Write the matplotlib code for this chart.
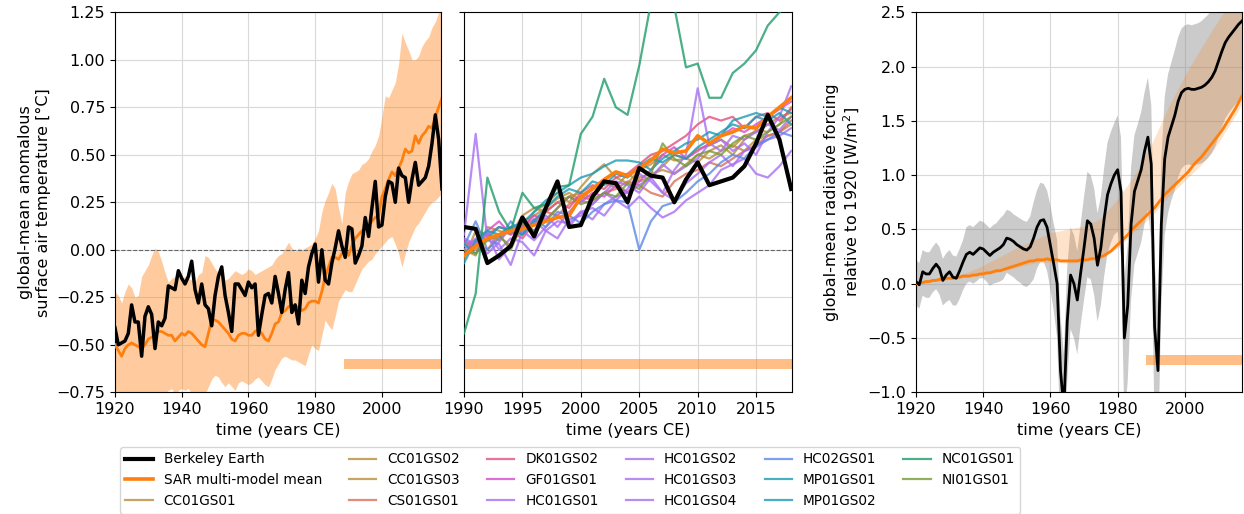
import numpy as np
import matplotlib
matplotlib.use("Agg")
import matplotlib.pyplot as plt

plt.rcParams["font.family"] = ["DejaVu Sans"]
plt.rcParams["font.size"] = 11.5

# ---------------- data: temperature (1920-2018) ----------------
years_t = np.arange(1920, 2019)
berkeley = [
    -0.41, -0.50, -0.49, -0.48, -0.44, -0.29, -0.38, -0.38, -0.56, -0.35,
    -0.30, -0.34, -0.52, -0.38, -0.40, -0.36, -0.19, -0.20, -0.21, -0.11,
    -0.15, -0.18, -0.14, -0.06, -0.21, -0.28, -0.18, -0.29, -0.31, -0.40,
    -0.24, -0.14, -0.09, -0.24, -0.33, -0.43, -0.18, -0.18, -0.21, -0.24,
    -0.17, -0.20, -0.18, -0.45, -0.34, -0.24, -0.23, -0.28, -0.14, -0.23,
    -0.33, -0.21, -0.12, -0.33, -0.29, -0.39, -0.16, -0.23, -0.09, -0.02,
    0.03, -0.17, 0.00, -0.16, -0.18, -0.07, 0.01, 0.10, 0.02, -0.04,
    0.12, 0.11, -0.07, -0.03, 0.02, 0.17, 0.07, 0.22, 0.36, 0.12,
    0.13, 0.28, 0.36, 0.35, 0.25, 0.43, 0.39, 0.38, 0.25, 0.37,
    0.46, 0.34, 0.36, 0.38, 0.44, 0.56, 0.71, 0.58, 0.32,
]
sar_mean = [
    -0.50, -0.53, -0.56, -0.52, -0.50, -0.49, -0.50, -0.51, -0.52, -0.50,
    -0.47, -0.46, -0.45, -0.43, -0.43, -0.44, -0.45, -0.45, -0.48, -0.46,
    -0.44, -0.45, -0.43, -0.44, -0.46, -0.48, -0.50, -0.51, -0.44, -0.37,
    -0.37, -0.38, -0.40, -0.42, -0.44, -0.47, -0.48, -0.45, -0.44, -0.44,
    -0.45, -0.45, -0.43, -0.42, -0.44, -0.47, -0.48, -0.44, -0.39, -0.38,
    -0.33, -0.32, -0.30, -0.29, -0.30, -0.30, -0.32, -0.31, -0.28, -0.27,
    -0.27, -0.28, -0.22, -0.14, -0.09, -0.04, -0.04, -0.05, -0.02, 0.00,
    -0.03, 0.02, 0.06, 0.08, 0.10, 0.11, 0.13, 0.15, 0.17, 0.18,
    0.28, 0.32, 0.37, 0.41, 0.39, 0.43, 0.47, 0.53, 0.51, 0.52,
    0.60, 0.56, 0.60, 0.62, 0.65, 0.64, 0.70, 0.75, 0.80,
]
sar_hi = [
    -0.22, -0.24, -0.28, -0.22, -0.18, -0.20, -0.25, -0.24, -0.14, -0.11,
    -0.08, -0.03, 0.01, -0.01, -0.06, -0.12, -0.17, -0.15, -0.14, -0.14,
    -0.15, -0.14, -0.15, -0.16, -0.17, -0.13, -0.12, -0.03, -0.04, -0.07,
    -0.10, -0.12, -0.14, -0.16, -0.15, -0.13, -0.11, -0.12, -0.13, -0.12,
    -0.10, -0.11, -0.13, -0.12, -0.11, -0.10, -0.09, -0.08, -0.05, -0.03,
    -0.02, 0.01, 0.04, 0.01, -0.01, 0.01, 0.00, 0.01, 0.02, 0.03,
    0.06, 0.10, 0.20, 0.26, 0.30, 0.35, 0.32, 0.22, 0.14, 0.30,
    0.36, 0.40, 0.41, 0.42, 0.45, 0.46, 0.48, 0.52, 0.55, 0.60,
    0.70, 0.81, 0.80, 0.84, 0.88, 0.98, 1.14, 1.09, 1.05, 1.00,
    1.00, 1.02, 1.07, 1.10, 1.12, 1.17, 1.20, 1.25, 1.28,
]
sar_lo = [
    -0.80, -0.82, -0.85, -0.82, -0.80, -0.82, -0.85, -0.83, -0.80, -0.82,
    -0.80, -0.82, -0.85, -0.80, -0.78, -0.76, -0.74, -0.73, -0.76, -0.74,
    -0.73, -0.74, -0.73, -0.76, -0.78, -0.80, -0.78, -0.76, -0.72, -0.68,
    -0.66, -0.67, -0.70, -0.72, -0.70, -0.72, -0.74, -0.70, -0.69, -0.70,
    -0.71, -0.70, -0.68, -0.67, -0.69, -0.71, -0.72, -0.68, -0.63, -0.60,
    -0.57, -0.56, -0.57, -0.58, -0.58, -0.59, -0.60, -0.61, -0.55, -0.50,
    -0.52, -0.53, -0.45, -0.37, -0.40, -0.42, -0.35, -0.27, -0.24, -0.21,
    -0.22, -0.22, -0.18, -0.14, -0.10, -0.08, -0.06, -0.05, -0.02, 0.00,
    0.02, 0.04, 0.06, 0.07, 0.03, -0.02, -0.09, -0.02, 0.04, 0.08,
    0.12, 0.14, 0.17, 0.20, 0.23, 0.25, 0.26, 0.28, 0.30,
]
sar_period = [1988.5, 2020.0]

# ---------------- data: individual SAR runs (1990-2018) ----------------
years_m = np.arange(1990, 2019)
model_names = ["CC01GS01", "CC01GS02", "CC01GS03", "CS01GS01", "DK01GS02",
               "GF01GS01", "HC01GS01", "HC01GS02", "HC01GS03", "HC01GS04",
               "HC02GS01", "MP01GS01", "MP01GS02", "NC01GS01", "NI01GS01"]
model_runs = {
    "CC01GS01": [0.02, 0.05, 0.00, 0.08, 0.10, 0.15, 0.18, 0.22, 0.27, 0.30, 0.26, 0.33, 0.36, 0.35, 0.30,
                 0.38, 0.40, 0.42, 0.40, 0.45, 0.50, 0.48, 0.52, 0.55, 0.52, 0.58, 0.60, 0.62, 0.66],
    "CC01GS02": [-0.05, 0.10, 0.08, 0.05, 0.12, 0.10, 0.20, 0.24, 0.30, 0.25, 0.33, 0.40, 0.45, 0.38, 0.35,
                 0.42, 0.45, 0.50, 0.47, 0.48, 0.53, 0.55, 0.58, 0.54, 0.60, 0.62, 0.66, 0.70, 0.72],
    "CC01GS03": [0.00, -0.03, 0.12, 0.10, 0.08, 0.18, 0.22, 0.20, 0.25, 0.28, 0.30, 0.27, 0.35, 0.33, 0.40,
                 0.36, 0.38, 0.44, 0.50, 0.48, 0.46, 0.52, 0.55, 0.50, 0.58, 0.63, 0.62, 0.66, 0.75],
    "CS01GS01": [0.04, 0.00, 0.06, 0.07, 0.02, 0.12, 0.16, 0.20, 0.18, 0.24, 0.28, 0.26, 0.30, 0.32, 0.36,
                 0.34, 0.30, 0.28, 0.36, 0.40, 0.42, 0.46, 0.44, 0.48, 0.52, 0.55, 0.60, 0.62, 0.68],
    "DK01GS02": [-0.02, 0.04, 0.08, 0.12, 0.10, 0.06, 0.14, 0.20, 0.25, 0.22, 0.30, 0.34, 0.32, 0.38, 0.40,
                 0.45, 0.50, 0.52, 0.56, 0.60, 0.66, 0.70, 0.68, 0.70, 0.64, 0.70, 0.72, 0.68, 0.74],
    "GF01GS01": [0.05, 0.02, 0.10, 0.15, 0.08, 0.12, 0.18, 0.16, 0.22, 0.28, 0.25, 0.30, 0.28, 0.34, 0.30,
                 0.36, 0.42, 0.50, 0.54, 0.48, 0.52, 0.56, 0.60, 0.64, 0.62, 0.66, 0.70, 0.74, 0.78],
    "HC01GS01": [0.08, 0.61, 0.05, 0.03, -0.08, 0.10, 0.05, 0.12, 0.18, 0.12, 0.20, 0.16, 0.24, 0.28, 0.30,
                 0.34, 0.38, 0.30, 0.42, 0.50, 0.85, 0.55, 0.58, 0.52, 0.56, 0.50, 0.62, 0.70, 0.86],
    "HC01GS02": [-0.03, 0.02, 0.10, 0.00, 0.06, 0.04, -0.03, 0.10, 0.15, 0.14, 0.20, 0.22, 0.18, 0.26, 0.22,
                 0.28, 0.22, 0.17, 0.20, 0.26, 0.30, 0.34, 0.42, 0.45, 0.48, 0.40, 0.38, 0.44, 0.52],
    "HC01GS03": [0.00, 0.06, -0.02, 0.04, 0.12, 0.08, 0.15, 0.10, 0.06, 0.16, 0.18, 0.24, 0.30, 0.26, 0.32,
                 0.40, 0.36, 0.30, 0.26, 0.35, 0.40, 0.46, 0.50, 0.44, 0.52, 0.54, 0.58, 0.60, 0.64],
    "HC01GS04": [0.06, 0.03, 0.08, -0.05, 0.02, 0.14, 0.10, 0.18, 0.12, 0.20, 0.26, 0.24, 0.30, 0.36, 0.34,
                 0.30, 0.38, 0.45, 0.40, 0.44, 0.48, 0.56, 0.52, 0.60, 0.58, 0.62, 0.66, 0.63, 0.70],
    "HC02GS01": [0.02, 0.15, 0.00, 0.06, 0.15, 0.08, 0.16, 0.12, 0.20, 0.18, 0.14, 0.20, 0.24, 0.26, 0.25,
                 0.00, 0.15, 0.23, 0.25, 0.30, 0.36, 0.40, 0.46, 0.50, 0.48, 0.55, 0.58, 0.62, 0.60],
    "MP01GS01": [-0.07, 0.05, 0.10, 0.08, 0.12, 0.14, 0.20, 0.26, 0.30, 0.34, 0.38, 0.40, 0.44, 0.47, 0.47,
                 0.46, 0.42, 0.48, 0.52, 0.56, 0.58, 0.62, 0.60, 0.68, 0.70, 0.72, 0.70, 0.75, 0.72],
    "MP01GS02": [0.03, -0.02, 0.06, 0.12, 0.10, 0.08, 0.15, 0.22, 0.28, 0.32, 0.30, 0.36, 0.34, 0.40, 0.38,
                 0.44, 0.48, 0.46, 0.50, 0.48, 0.54, 0.58, 0.62, 0.66, 0.64, 0.70, 0.68, 0.72, 0.66],
    "NC01GS01": [-0.44, -0.23, 0.38, 0.20, 0.10, 0.30, 0.22, 0.24, 0.33, 0.34, 0.61, 0.70, 0.90, 0.75, 0.71,
                 0.97, 1.30, 1.55, 1.28, 0.96, 0.98, 0.80, 0.80, 0.93, 0.98, 1.05, 1.18, 1.25, 1.30],
    "NI01GS01": [0.00, -0.02, 0.05, 0.08, 0.00, 0.14, 0.10, 0.15, 0.22, 0.28, 0.24, 0.26, 0.30, 0.28, 0.35,
                 0.32, 0.40, 0.56, 0.48, 0.44, 0.50, 0.52, 0.50, 0.56, 0.60, 0.58, 0.62, 0.66, 0.70],
}
model_colors = {
    "CC": "#b98d3c", "CS": "#d96f56", "DK": "#e25082", "GF": "#d94acd",
    "HC01": "#a86ff3", "HC02": "#5c88e6", "MP": "#1e9bb4", "NC": "#1e9b69", "NI": "#769b37",
}

# ---------------- data: radiative forcing (1920-2017) ----------------
years_rf = np.arange(1920, 2018)
rf_obs = [
    0.02, -0.01, 0.11, 0.09, 0.09, 0.14, 0.18, 0.14, 0.03, 0.08,
    0.11, 0.06, 0.05, 0.12, 0.20, 0.27, 0.29, 0.27, 0.30, 0.33,
    0.32, 0.29, 0.26, 0.29, 0.31, 0.33, 0.36, 0.42, 0.41, 0.39,
    0.36, 0.34, 0.32, 0.31, 0.34, 0.42, 0.52, 0.58, 0.59, 0.52,
    0.35, 0.18, 0.00, -0.80, -1.15, -0.35, 0.08, 0.00, -0.15, 0.10,
    0.33, 0.58, 0.55, 0.42, 0.17, 0.33, 0.60, 0.82, 0.92, 1.00,
    1.05, 0.85, -0.50, -0.20, 0.55, 0.85, 0.95, 1.05, 1.22, 1.35,
    1.10, -0.40, -0.80, 0.55, 1.15, 1.35, 1.45, 1.55, 1.68, 1.76,
    1.79, 1.80, 1.79, 1.79, 1.80, 1.81, 1.83, 1.86, 1.90, 1.96,
    2.05, 2.14, 2.22, 2.27, 2.31, 2.35, 2.39, 2.42,
]
rf_obs_hi = [
    0.22, 0.19, 0.31, 0.29, 0.29, 0.34, 0.38, 0.34, 0.23, 0.28,
    0.31, 0.26, 0.25, 0.32, 0.40, 0.52, 0.54, 0.52, 0.55, 0.58,
    0.57, 0.54, 0.51, 0.54, 0.56, 0.60, 0.63, 0.68, 0.67, 0.64,
    0.62, 0.60, 0.58, 0.57, 0.62, 0.75, 0.86, 0.93, 0.92, 0.86,
    0.72, 0.55, 0.40, -0.30, -0.65, 0.15, 0.52, 0.45, 0.30, 0.55,
    0.80, 1.03, 1.00, 0.88, 0.65, 0.80, 1.07, 1.30, 1.40, 1.48,
    1.55, 1.35, 0.05, 0.35, 1.07, 1.37, 1.47, 1.58, 1.76, 1.90,
    1.65, 0.20, -0.20, 1.15, 1.72, 1.93, 2.04, 2.15, 2.27, 2.35,
    2.38, 2.39, 2.38, 2.39, 2.40, 2.42, 2.45, 2.48, 2.52, 2.58,
    2.67, 2.76, 2.84, 2.89, 2.93, 2.97, 3.01, 3.04,
]
rf_obs_lo = [
    -0.20, -0.23, -0.11, -0.13, -0.13, -0.08, -0.05, -0.10, -0.20, -0.17,
    -0.15, -0.20, -0.20, -0.14, -0.06, 0.00, 0.02, 0.00, 0.02, 0.05,
    0.05, 0.02, -0.02, 0.00, 0.01, 0.02, 0.04, 0.10, 0.08, 0.06,
    0.03, 0.01, -0.02, -0.03, 0.00, 0.04, 0.14, 0.20, 0.20, 0.12,
    -0.05, -0.25, -0.50, -1.40, -1.75, -0.90, -0.42, -0.50, -0.65, -0.38,
    -0.15, 0.06, 0.04, -0.10, -0.35, -0.20, 0.07, 0.28, 0.38, 0.45,
    0.48, 0.25, -1.25, -0.90, -0.15, 0.18, 0.28, 0.38, 0.55, 0.68,
    0.40, -1.30, -1.60, -0.20, 0.45, 0.65, 0.77, 0.86, 0.98, 1.06,
    1.09, 1.10, 1.09, 1.09, 1.10, 1.11, 1.13, 1.16, 1.20, 1.26,
    1.35, 1.44, 1.52, 1.57, 1.61, 1.65, 1.69, 1.72,
]
rf_sar = [
    0.00, 0.01, 0.01, 0.02, 0.02, 0.03, 0.03, 0.04, 0.04, 0.05,
    0.05, 0.05, 0.06, 0.06, 0.07, 0.07, 0.07, 0.08, 0.08, 0.09,
    0.09, 0.10, 0.10, 0.11, 0.12, 0.12, 0.13, 0.14, 0.15, 0.16,
    0.17, 0.18, 0.19, 0.20, 0.21, 0.21, 0.22, 0.22, 0.22, 0.23,
    0.22, 0.22, 0.22, 0.21, 0.21, 0.21, 0.21, 0.21, 0.21, 0.22,
    0.22, 0.22, 0.23, 0.23, 0.24, 0.25, 0.26, 0.28, 0.30, 0.33,
    0.36, 0.39, 0.42, 0.45, 0.49, 0.52, 0.55, 0.58, 0.61, 0.64,
    0.67, 0.70, 0.74, 0.78, 0.82, 0.85, 0.88, 0.91, 0.94, 0.97,
    1.00, 1.03, 1.07, 1.11, 1.14, 1.17, 1.21, 1.25, 1.29, 1.33,
    1.37, 1.41, 1.46, 1.51, 1.56, 1.61, 1.67, 1.73,
]
years_rf_band = [1920, 1925, 1930, 1935, 1940, 1945, 1950, 1955, 1960, 1965, 1970,
                 1975, 1980, 1985, 1990, 1995, 2000, 2005, 2010, 2015, 2017]
rf_sar_hi = [0.02, 0.05, 0.07, 0.10, 0.17, 0.25, 0.33, 0.40, 0.47, 0.50, 0.53,
             0.60, 0.78, 1.00, 1.28, 1.62, 1.92, 2.18, 2.43, 2.65, 2.75]
rf_sar_lo = [0.00, 0.02, 0.04, 0.06, 0.08, 0.11, 0.15, 0.19, 0.20, 0.19, 0.20,
             0.23, 0.33, 0.48, 0.62, 0.80, 0.95, 1.10, 1.30, 1.55, 1.66]

ORANGE = "#ff7f0e"
GRID = dict(color="0.85", lw=0.8)


def model_color(name):
    key = name[:4] if name.startswith("HC") else name[:2]
    return model_colors[key]


fig = plt.figure(figsize=(12.44, 5.14), dpi=100)
ax1 = fig.add_axes([0.0924, 0.2368, 0.2621, 0.7393])
ax2 = fig.add_axes([0.3730, 0.2368, 0.2639, 0.7393], sharey=ax1)
ax3 = fig.add_axes([0.7363, 0.2368, 0.2621, 0.7393])

# left: temperature 1920-2018
ax1.fill_between(years_t, sar_lo, sar_hi, color=ORANGE, alpha=0.4, lw=0, zorder=1)
ax1.plot(sar_period, [-0.6, -0.6], color=ORANGE, alpha=0.5, lw=7.2, solid_capstyle="butt", zorder=2)
ax1.axhline(0, color="0.4", lw=0.8, ls="--", zorder=2)
ax1.plot(years_t, sar_mean, color=ORANGE, lw=2.0, zorder=3)
ax1.plot(years_t, berkeley, color="black", lw=2.5, zorder=4)
ax1.set_xlim(1920, 2017.7)
ax1.set_ylim(-0.75, 1.25)
ax1.set_xticks([1920, 1940, 1960, 1980, 2000])
ax1.set_yticks(np.arange(-0.75, 1.26, 0.25))
ax1.set_ylabel("global-mean anomalous\nsurface air temperature [°C]")
ax1.set_xlabel("time (years CE)")
ax1.grid(True, **GRID)
ax1.set_axisbelow(True)

# middle: zoom on 1990-2018 with the individual runs
handles = []
for name in model_names:
    ln, = ax2.plot(years_m, model_runs[name], color=model_color(name), lw=1.6, alpha=0.8,
                   label=name, zorder=3)
    handles.append(ln)
ax2.plot(sar_period, [-0.6, -0.6], color=ORANGE, alpha=0.5, lw=7.2, solid_capstyle="butt", zorder=2)
ax2.axhline(0, color="0.4", lw=0.8, ls="--", zorder=2)
h_sar, = ax2.plot(years_t, sar_mean, color=ORANGE, lw=2.6, zorder=4, label="SAR multi-model mean")
h_be, = ax2.plot(years_t, berkeley, color="black", lw=3.0, zorder=5, label="Berkeley Earth")
ax2.set_xlim(1990, 2018.1)
ax2.set_xticks([1990, 1995, 2000, 2005, 2010, 2015])
ax2.tick_params(labelleft=False)
ax2.set_xlabel("time (years CE)")
ax2.grid(True, **GRID)
ax2.set_axisbelow(True)

# right: radiative forcing
ax3.fill_between(years_rf, rf_obs_lo, rf_obs_hi, color="0.55", alpha=0.45, lw=0, zorder=1)
ax3.fill_between(years_rf_band, rf_sar_lo, rf_sar_hi, color=ORANGE, alpha=0.22, lw=0, zorder=2)
ax3.plot(sar_period, [-0.7, -0.7], color=ORANGE, alpha=0.5, lw=7.2, solid_capstyle="butt", zorder=2)
ax3.plot(years_rf, rf_sar, color=ORANGE, lw=2.0, zorder=3)
ax3.plot(years_rf, rf_obs, color="black", lw=2.0, zorder=4)
ax3.set_xlim(1920, 2017)
ax3.set_ylim(-1.0, 2.5)
ax3.set_xticks([1920, 1940, 1960, 1980, 2000])
ax3.set_ylabel("global-mean radiative forcing\nrelative to 1920 [W/m$^2$]")
ax3.set_xlabel("time (years CE)")
ax3.grid(True, **GRID)
ax3.set_axisbelow(True)

fig.legend([h_be, h_sar] + handles,
           ["Berkeley Earth", "SAR multi-model mean"] + model_names,
           loc="upper left", bbox_to_anchor=(120 / 1244, 1 - 447 / 514),
           borderaxespad=0, ncol=6, fontsize=9.8)

fig.savefig("out.png", dpi=100)
